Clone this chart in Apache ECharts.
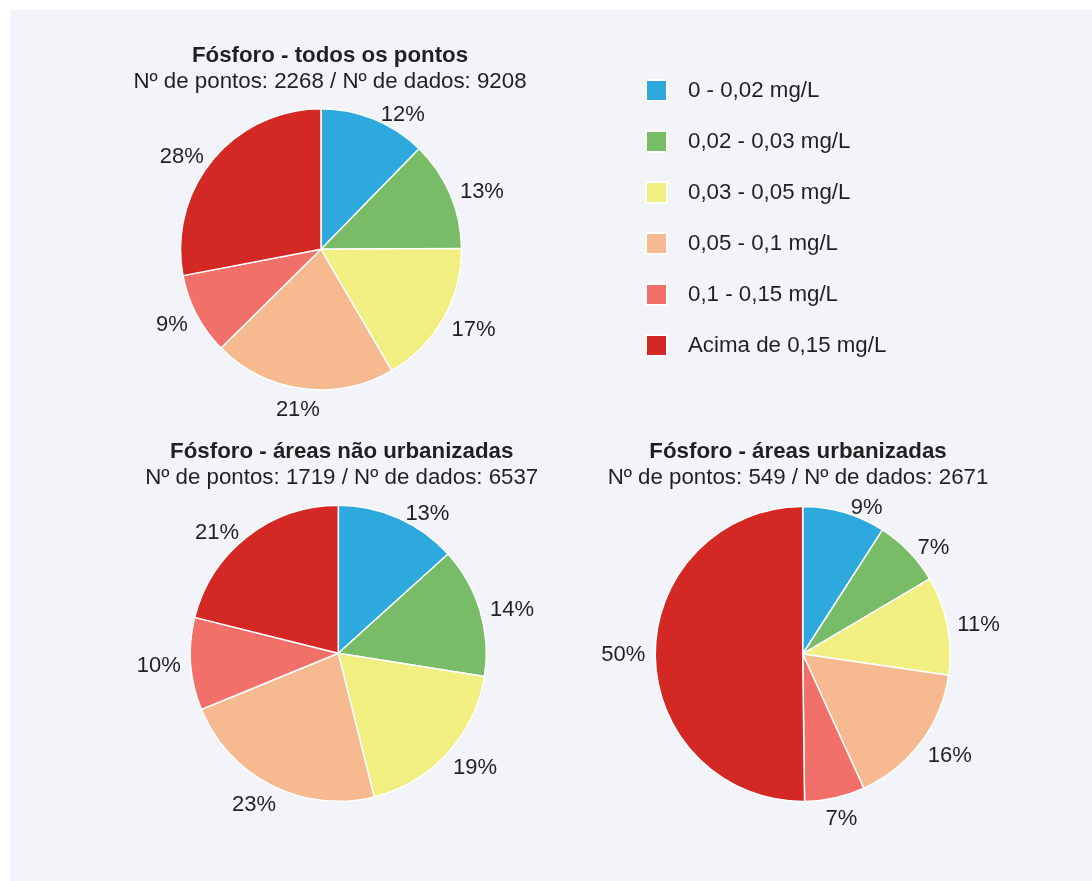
<!DOCTYPE html>
<html>
<head>
<meta charset="utf-8">
<script src="https://cdn.jsdelivr.net/npm/echarts@6/dist/echarts.min.js"></script>
<style>
  html, body { margin: 0; padding: 0; background: #ffffff; }
  #chart { position: absolute; left: 10px; top: 10px; width: 1082px; height: 871px; }
</style>
</head>
<body>
<div id="chart"></div>
<script>
// ---- data ----
const categories = ['0 - 0,02 mg/L', '0,02 - 0,03 mg/L', '0,03 - 0,05 mg/L', '0,05 - 0,1 mg/L', '0,1 - 0,15 mg/L', 'Acima de 0,15 mg/L'];
const colors = ['#2ea9de', '#79bc67', '#f1ee82', '#f7b990', '#f2706a', '#d42825'];
const todosValues = [12.3, 12.6, 16.7, 21.0, 9.4, 28.0];
const naoUrbValues = [13.3, 14.2, 18.6, 22.7, 10.1, 21.1];
const urbValues = [9.1, 7.4, 10.8, 15.9, 6.6, 50.2];
const titles = ['Fósforo - todos os pontos', 'Fósforo - áreas não urbanizadas', 'Fósforo - áreas urbanizadas'];
const subtitles = ['Nº de pontos: 2268 / Nº de dados: 9208', 'Nº de pontos: 1719 / Nº de dados: 6537', 'Nº de pontos: 549 / Nº de dados: 2671'];

const textColor = '#231f20';
const fontFamily = '"Liberation Sans", Arial, Helvetica, sans-serif';
const LABEL_DIST = 5;

function toData(values) {
  return categories.map((c, i) => ({ name: c, value: values[i], itemStyle: { color: colors[i] } }));
}

// Labels below the pie's equator are nudged down and toward a centred placement,
// derived from the library's own default label layout.
function makeLabelLayout(cx, cy) {
  return function (params) {
    const r = params.labelRect;
    if (!r) return {};
    const toRight = params.align === 'left';
    const ax = toRight ? r.x - LABEL_DIST : r.x + r.width + LABEL_DIST;
    const ay = r.y + r.height / 2;
    const dx = ax - cx, dy = ay - cy;
    const d = Math.hypot(dx, dy) || 1;
    const ux = dx / d, uy = dy / d;
    if (uy <= 0) return {};
    const defCx = r.x + r.width / 2;
    const centredCx = ax + ux * (r.width / 2 + LABEL_DIST);
    const shiftX = (centredCx - defCx) * uy * uy;
    const shiftY = 17 * uy;
    return { dx: shiftX, dy: shiftY };
  };
}

function pieSeries(values, center, radius) {
  return {
    type: 'pie',
    center: center,
    radius: radius,
    startAngle: 90,
    clockwise: true,
    avoidLabelOverlap: false,
    silent: true,
    itemStyle: { borderColor: '#ffffff', borderWidth: 1.5 },
    label: {
      show: true,
      position: 'outside',
      formatter: p => Math.round(p.percent) + '%',
      color: textColor,
      fontFamily: fontFamily,
      fontSize: 22,
      distanceToLabelLine: LABEL_DIST
    },
    labelLine: { show: false, length: 5, length2: 0 },
    labelLayout: makeLabelLayout(center[0], center[1]),
    emphasis: { disabled: true },
    data: toData(values)
  };
}

function titleAt(idx, x, y) {
  return {
    text: titles[idx],
    subtext: subtitles[idx],
    left: x,
    top: y,
    textAlign: 'center',
    padding: 0,
    itemGap: 2,
    textStyle: { color: textColor, fontFamily: fontFamily, fontSize: 22.3, fontWeight: 'bold', lineHeight: 24 },
    subtextStyle: { color: textColor, fontFamily: fontFamily, fontSize: 22.3, lineHeight: 24 }
  };
}

const chart = echarts.init(document.getElementById('chart'), null, { renderer: 'canvas' });
chart.setOption({
  backgroundColor: '#f3f4f9',
  animation: false,
  title: [
    titleAt(0, 320, 34),
    titleAt(1, 331.7, 430),
    titleAt(2, 788, 430)
  ],
  legend: {
    orient: 'vertical',
    left: 635,
    top: 69,
    icon: 'rect',
    itemWidth: 21,
    itemHeight: 21,
    itemGap: 28,
    selectedMode: false,
    padding: 0,
    data: categories,
    textStyle: { color: textColor, fontFamily: fontFamily, fontSize: 22.3, padding: [0, 0, 0, 16] }
  },
  series: [
    pieSeries(todosValues, [311, 239.3], 140.5),
    pieSeries(naoUrbValues, [328.3, 643.3], 148),
    pieSeries(urbValues, [792.7, 644], 147.5)
  ]
});
</script>
</body>
</html>
